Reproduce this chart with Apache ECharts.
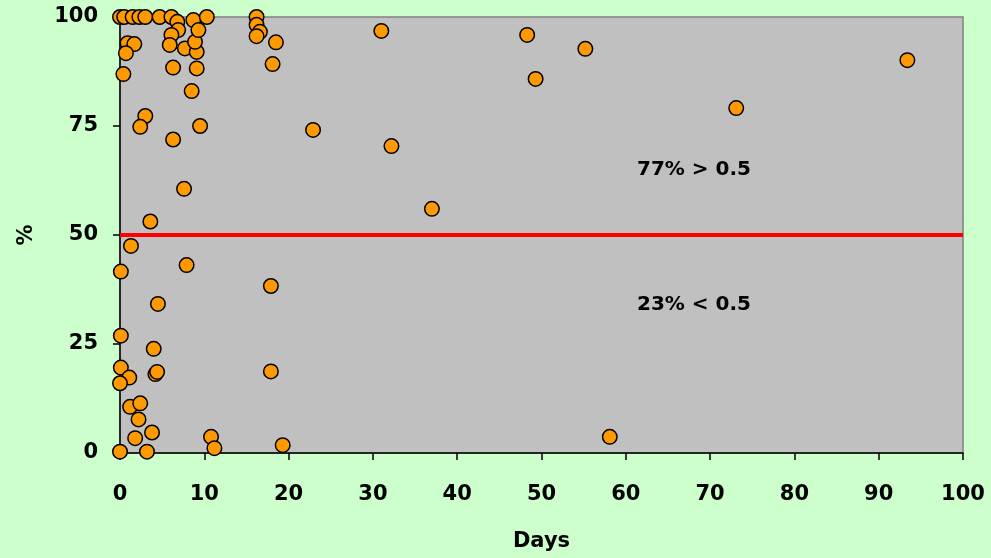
<!DOCTYPE html>
<html>
<head>
<meta charset="utf-8">
<script src="https://cdn.jsdelivr.net/npm/echarts@6/dist/echarts.min.js"></script>
<style>
html,body{margin:0;padding:0;background:#CCFFCC;}
#c{width:991px;height:558px;}
</style>
</head>
<body>
<div id="c"></div>
<script>
const days = [0, 0.5, 1.5, 2.3, 3.0, 4.7, 6.1, 6.8, 8.7, 10.3, 6.9, 6.1, 5.9, 7.7, 9.1, 8.9, 9.3,
  0.9, 1.7, 0.7, 0.4, 6.3, 9.1, 8.5, 3.0, 2.4, 9.5, 6.3, 7.6, 3.6, 1.3, 0.1, 7.9, 4.5,
  0.1, 4.0, 0.1, 1.1, 4.2, 4.4, 0, 1.2, 2.4, 2.2, 3.8, 1.8, 0, 3.2, 10.8, 11.2,
  16.2, 16.2, 16.6, 16.2, 18.5, 18.1, 22.9, 32.2, 37.0, 17.9, 17.9, 19.3,
  31.0, 48.3, 49.3, 55.2, 58.1, 73.1, 93.4];
const pct = [100, 100, 100, 100, 100, 100, 100, 98.9, 99.3, 100, 97.0, 95.9, 93.6, 92.8, 92.0, 94.3, 97.0,
  94.0, 93.8, 91.7, 86.9, 88.4, 88.2, 83.0, 77.3, 74.8, 75.0, 71.9, 60.6, 53.1, 47.5, 41.6, 43.1, 34.2,
  26.9, 23.9, 19.6, 17.3, 18.1, 18.6, 16.0, 10.6, 11.4, 7.7, 4.7, 3.4, 0.3, 0.3, 3.7, 1.1,
  100, 98.2, 96.6, 95.6, 94.2, 89.2, 74.1, 70.4, 56.0, 38.3, 18.7, 1.8,
  96.8, 95.9, 85.8, 92.7, 3.7, 79.1, 90.1];
const thresholdX = [0, 100];
const thresholdY = [50, 50];
const xTicks = [0, 10, 20, 30, 40, 50, 60, 70, 80, 90, 100];
const yTicks = [0, 25, 50, 75, 100];
const notes = ["77% > 0.5", "23% < 0.5"];

const FONT = '"DejaVu Sans", Arial, sans-serif';
const chart = echarts.init(document.getElementById('c'), null, {renderer: 'canvas'});
chart.setOption({
  backgroundColor: '#CCFFCC',
  animation: false,
  grid: {left: 120, top: 17, right: 28, bottom: 105, show: true,
         backgroundColor: '#C0C0C0', borderColor: '#808080', borderWidth: 1.5},
  xAxis: {
    type: 'value', min: xTicks[0], max: xTicks[xTicks.length - 1], interval: 10,
    name: 'Days', nameLocation: 'middle', nameGap: 78,
    nameTextStyle: {fontFamily: FONT, fontWeight: 'bold', fontSize: 21, color: '#000'},
    axisLine: {show: true, lineStyle: {color: '#000', width: 1.5}},
    axisTick: {show: true, length: 7, lineStyle: {color: '#000', width: 1.5}},
    axisLabel: {margin: 31, fontFamily: FONT, fontWeight: 'bold', fontSize: 21, color: '#000'},
    splitLine: {show: false}
  },
  yAxis: {
    type: 'value', min: yTicks[0], max: yTicks[yTicks.length - 1], interval: 25,
    name: '%', nameLocation: 'middle', nameGap: 83, nameRotate: 90,
    nameTextStyle: {fontFamily: FONT, fontWeight: 'bold', fontSize: 21, color: '#000'},
    axisLine: {show: true, lineStyle: {color: '#000', width: 1.5}},
    axisTick: {show: true, length: 7, lineStyle: {color: '#000', width: 1.5}},
    axisLabel: {margin: 22, fontFamily: FONT, fontWeight: 'bold', fontSize: 21, color: '#000'},
    splitLine: {show: false}
  },
  graphic: [
    {type: 'text', left: 637, top: 160, style: {text: notes[0], font: 'bold 20px ' + FONT, fill: '#000'}},
    {type: 'text', left: 637, top: 295, style: {text: notes[1], font: 'bold 20px ' + FONT, fill: '#000'}}
  ],
  series: [
    {type: 'line', data: thresholdX.map((x, i) => [x, thresholdY[i]]), symbol: 'none',
     lineStyle: {color: '#FF0000', width: 4}, z: 2, silent: true},
    {type: 'scatter', data: days.map((d, i) => [d, pct[i]]), symbol: 'circle', symbolSize: 14.5,
     clip: false,
     itemStyle: {color: '#FF9900', borderColor: '#000', borderWidth: 1.5, opacity: 1}, z: 3}
  ]
});
</script>
</body>
</html>
